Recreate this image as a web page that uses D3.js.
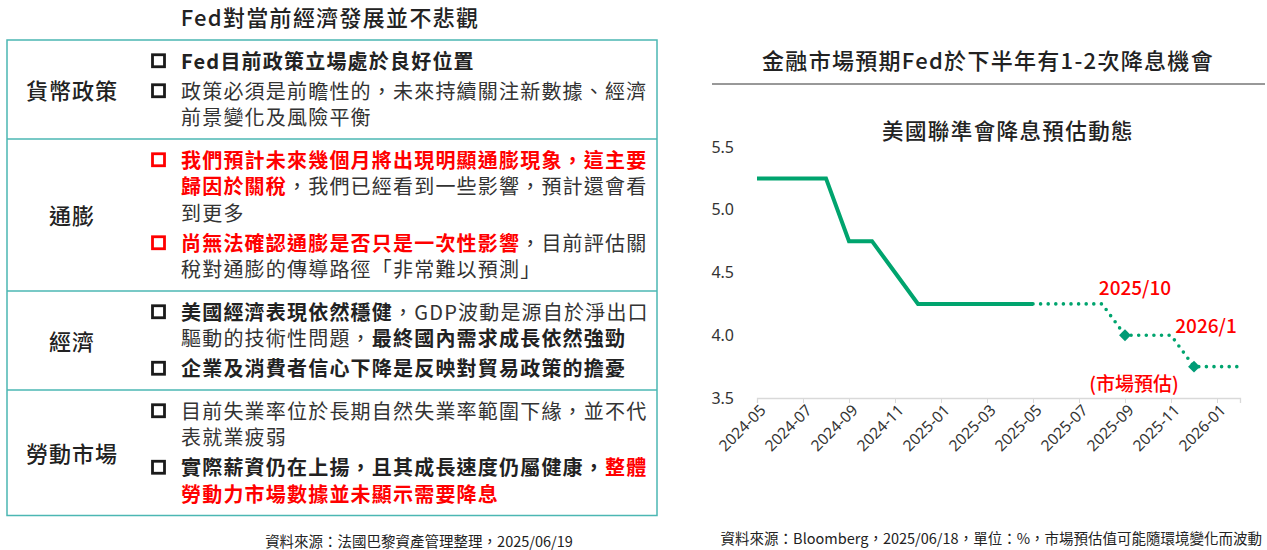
<!DOCTYPE html>
<html lang="zh-Hant-TW">
<head>
<meta charset="utf-8">
<title>Fed</title>
<script src="https://d3js.org/d3.v7.min.js"></script>
<style>
  body { margin: 0; background: #fff; }
  svg text { font-family: "Noto Sans CJK TC", "Noto Sans", sans-serif; }
</style>
</head>
<body>
<svg id="chart" width="1267" height="550"></svg>
<script>
// ---- left table ----
var rowLabels = ["貨幣政策", "通膨", "經濟", "勞動市場"];
// each row: bullets -> lines -> segments [text, bold, red]
var rowBullets = [
  [
    [[["Fed目前政策立場處於良好位置", 1, 0]]],
    [[["政策必須是前瞻性的，未來持續關注新數據、經濟", 0, 0]], [["前景變化及風險平衡", 0, 0]]]
  ],
  [
    [[["我們預計未來幾個月將出現明顯通膨現象，這主要", 1, 1]],
     [["歸因於關稅", 1, 1], ["，我們已經看到一些影響，預計還會看", 0, 0]],
     [["到更多", 0, 0]]],
    [[["尚無法確認通膨是否只是一次性影響", 1, 1], ["，目前評估關", 0, 0]],
     [["稅對通膨的傳導路徑「非常難以預測」", 0, 0]]]
  ],
  [
    [[["美國經濟表現依然穩健", 1, 0], ["，GDP波動是源自於淨出口", 0, 0]],
     [["驅動的技術性問題，", 0, 0], ["最終國內需求成長依然強勁", 1, 0]]],
    [[["企業及消費者信心下降是反映對貿易政策的擔憂", 1, 0]]]
  ],
  [
    [[["目前失業率位於長期自然失業率範圍下緣，並不代", 0, 0]], [["表就業疲弱", 0, 0]]],
    [[["實際薪資仍在上揚，且其成長速度仍屬健康，", 1, 0], ["整體", 1, 1]],
     [["勞動力市場數據並未顯示需要降息", 1, 1]]]
  ]
];

// ---- right chart ----
var months = ["2024-05","2024-06","2024-07","2024-08","2024-09","2024-10","2024-11","2024-12",
  "2025-01","2025-02","2025-03","2025-04","2025-05","2025-06","2025-07","2025-08",
  "2025-09","2025-10","2025-11","2025-12","2026-01","2026-02"];
var actualRate = [5.25,5.25,5.25,5.25,4.75,4.75,4.5,4.25,4.25,4.25,4.25,4.25,4.25];
var forecastMonths = months.slice(12);
var forecastRate = [4.25,4.25,4.25,4.25,4.0,4.0,4.0,3.75,3.75,3.75];
var markerMonths = ["2025-09", "2025-12"];
var markerRate = [4.0, 3.75];
var yTicks = [3.5, 4.0, 4.5, 5.0, 5.5];

var RED = "#ff0000", TEXT = "#222", TEAL = "#4bb7b3", GREEN = "#00a46e";

var svg = d3.select("#chart");

// left title
svg.append("text").attr("x", 330).attr("y", 16).attr("text-anchor", "middle")
  .attr("dominant-baseline", "central").attr("font-size", 22).attr("font-weight", 500)
  .attr("letter-spacing", 1.3).attr("fill", TEXT).text("Fed對當前經濟發展並不悲觀");

var LH = 26.5, GAP = 3.5, PAD = 16;
var rowTop = 40, left = 7, right = 657;
rowBullets.forEach(function(bullets, ri) {
  var nLines = d3.sum(bullets, function(b) { return b.length; });
  var h = PAD + nLines * LH + (bullets.length - 1) * GAP;
  var g = svg.append("g");
  g.append("text").attr("x", 72).attr("y", rowTop + h / 2 - 1).attr("text-anchor", "middle")
    .attr("dominant-baseline", "central").attr("font-size", 22).attr("font-weight", 500)
    .attr("letter-spacing", 1).attr("fill", TEXT).text(rowLabels[ri]);
  var cy = rowTop + PAD / 2 + LH / 2 - 1.5;
  bullets.forEach(function(lines, bi) {
    var red = lines[0][0][2];
    g.append("rect").attr("x", 152.5).attr("y", cy - 5).attr("width", 12).attr("height", 12)
      .attr("fill", "none").attr("stroke", red ? RED : "#1a1a1a").attr("stroke-width", 2.8);
    lines.forEach(function(segs) {
      var t = g.append("text").attr("x", 181).attr("y", cy).attr("dominant-baseline", "central")
        .attr("font-size", 20).attr("letter-spacing", 1.2);
      segs.forEach(function(s) {
        t.append("tspan").text(s[0]).attr("font-weight", s[1] ? 700 : 400)
          .attr("fill", s[2] ? RED : (s[1] ? TEXT : "#333"));
      });
      cy += LH;
    });
    cy += GAP;
  });
  if (ri > 0) {
    svg.append("line").attr("x1", left).attr("x2", right).attr("y1", rowTop).attr("y2", rowTop)
      .attr("stroke", TEAL).attr("stroke-width", 1.5);
  }
  rowTop += h;
});
svg.append("rect").attr("x", left).attr("y", 40).attr("width", right - left).attr("height", rowTop - 40)
  .attr("fill", "none").attr("stroke", TEAL).attr("stroke-width", 1.5);

svg.append("text").attr("x", 419).attr("y", 540).attr("text-anchor", "middle")
  .attr("dominant-baseline", "central").attr("font-size", 14.5).attr("fill", TEXT)
  .text("資料來源：法國巴黎資產管理整理，2025/06/19");

// right titles
svg.append("text").attr("x", 988).attr("y", 59).attr("text-anchor", "middle")
  .attr("dominant-baseline", "central").attr("font-size", 22).attr("font-weight", 500)
  .attr("letter-spacing", 1.3).attr("fill", TEXT).text("金融市場預期Fed於下半年有1-2次降息機會");
svg.append("line").attr("x1", 712).attr("x2", 1265).attr("y1", 84).attr("y2", 84)
  .attr("stroke", "#333").attr("stroke-width", 1);
svg.append("text").attr("x", 1008).attr("y", 129).attr("text-anchor", "middle")
  .attr("dominant-baseline", "central").attr("font-size", 21.5).attr("font-weight", 500)
  .attr("letter-spacing", 1.4).attr("fill", TEXT).text("美國聯準會降息預估動態");

var x = d3.scalePoint().domain(months).range([757, 1240]);
var y = d3.scaleLinear().domain([3.5, 5.5]).range([398, 147]);

var yAxis = svg.append("g").attr("transform", "translate(757,0)")
  .call(d3.axisLeft(y).tickValues(yTicks).tickFormat(d3.format(".1f")).tickSize(0).tickPadding(23));
yAxis.select(".domain").remove();
yAxis.selectAll("text").attr("font-size", 16).attr("fill", "#333")
  .style("font-family", "'Noto Sans', sans-serif");

var xAxis = svg.append("g").attr("transform", "translate(0,398)")
  .call(d3.axisBottom(x).tickValues(months.filter(function(d, i) { return i % 2 === 0; }))
    .tickSize(5).tickPadding(4));
xAxis.select(".domain").attr("stroke", "#d9d9d9").attr("stroke-width", 1.3);
xAxis.selectAll(".tick line").attr("stroke", "#d9d9d9");
xAxis.selectAll("text").attr("font-size", 15.5).attr("fill", "#333")
  .style("font-family", "'Noto Sans', sans-serif")
  .attr("text-anchor", "end").attr("dy", "0.35em")
  .attr("transform", "translate(-1,3) rotate(-45)");

var line = d3.line().x(function(d) { return x(d[0]); }).y(function(d) { return y(d[1]); });
svg.append("path").attr("d", line(d3.zip(months.slice(0, actualRate.length), actualRate)))
  .attr("fill", "none").attr("stroke", GREEN).attr("stroke-width", 4)
  .attr("stroke-linejoin", "miter");
svg.append("path").attr("d", line(d3.zip(forecastMonths, forecastRate)))
  .attr("fill", "none").attr("stroke", GREEN).attr("stroke-width", 3.6)
  .attr("stroke-linecap", "round").attr("stroke-dasharray", "0 7.6");
svg.selectAll(".mk").data(d3.zip(markerMonths, markerRate)).enter().append("path")
  .attr("class", "mk")
  .attr("d", d3.symbol().type(d3.symbolDiamond2).size(90))
  .attr("transform", function(d) { return "translate(" + x(d[0]) + "," + y(d[1]) + ")"; })
  .attr("fill", "#009b76");

// annotations
var notes = [["2025/10", 1135, 286], ["2026/1", 1206, 324], ["(市場預估)", 1134, 382]];
svg.selectAll(".note").data(notes).enter().append("text").attr("class", "note")
  .attr("x", function(d) { return d[1]; }).attr("y", function(d) { return d[2]; })
  .attr("text-anchor", "middle").attr("dominant-baseline", "central")
  .attr("font-size", 19).attr("font-weight", 500).attr("fill", RED)
  .text(function(d) { return d[0]; });

svg.append("text").attr("x", 1262).attr("y", 537).attr("text-anchor", "end")
  .attr("dominant-baseline", "central").attr("font-size", 14.5).attr("fill", TEXT)
  .text("資料來源：Bloomberg，2025/06/18，單位：%，市場預估值可能隨環境變化而波動");
</script>
</body>
</html>
